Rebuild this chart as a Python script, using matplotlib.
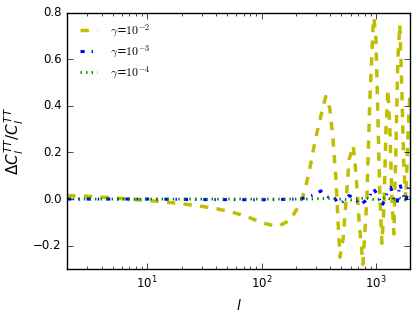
import numpy as np
import matplotlib
matplotlib.use("Agg")
import matplotlib.pyplot as plt
from matplotlib.font_manager import FontProperties

# values
l_y = [2, 3, 5, 10.6, 15.3, 21.5, 29, 40.8, 55.3, 76, 103, 139, 178, 218, 240, 264, 297, 324, 364,
       395, 421, 447, 466, 485, 517, 550, 584, 633, 670, 712, 770, 834, 886, 943, 961, 1000, 1042,
       1085, 1128, 1175, 1225, 1273, 1325, 1380, 1436, 1495, 1555, 1620, 1685, 1755, 1828, 1900, 1982]
d_y = [0.015, 0.012, 0.005, -0.007, -0.014, -0.022, -0.030, -0.042, -0.056, -0.077, -0.103, -0.118,
       -0.09, -0.02, 0.04, 0.13, 0.26, 0.34, 0.44, 0.39, 0.26, 0.09, -0.09, -0.25, -0.17, 0.0, 0.17,
       0.23, 0.11, -0.09, -0.28, 0.0, 0.43, 0.73, 0.78, 0.69, 0.34, 0.0, -0.19, -0.04, 0.3, 0.47, 0.3,
       0.0, -0.15, 0.21, 0.6, 0.75, 0.47, 0.13, 0.0, 0.26, 0.45]

l_b = [2, 5, 10, 30, 100, 217, 260, 292, 330, 380, 420, 470, 517, 580, 650, 720, 800, 880, 950,
       1030, 1130, 1200, 1273, 1350, 1436, 1530, 1620, 1720, 1828, 1950]
d_b = [0.0, 0.0, 0.0, -0.002, -0.003, 0.0, 0.01, 0.02, 0.035, 0.01, 0.015, -0.02, -0.01, 0.015,
       0.005, -0.025, -0.01, 0.01, 0.045, 0.02, -0.03, 0.0, 0.035, 0.05, 0.0, -0.02, 0.065, 0.02,
       -0.01, 0.06]

l_g = [2, 10, 100, 250, 400, 600, 800, 1000, 1200, 1400, 1600, 1800, 2000]
d_g = [0.0, 0.0, 0.0, 0.0, 0.003, -0.004, 0.005, -0.004, 0.006, -0.003, 0.005, -0.004, 0.004]

labels = [r"$\gamma$=$10^{-2}$", r"$\gamma$=$10^{-3}$", r"$\gamma$=$10^{-4}$"]

plt.style.use("classic")
plt.rcParams["font.size"] = 8.5
plt.rcParams["mathtext.fontset"] = "dejavusans"

fig = plt.figure(figsize=(4.2, 3.19), dpi=100)
ax = fig.add_axes([0.16, 0.157, 0.817, 0.803])

ax.plot(l_y, d_y, color="y", linestyle="--", linewidth=2.5, label=labels[0])
ax.plot(l_b, d_b, color="b", linestyle="-.", linewidth=2.2, label=labels[1])
ax.plot(l_g, d_g, color="g", linestyle=":", linewidth=2.0, label=labels[2])

ax.set_xscale("log")
ax.set_xlim(2, 2000)
ax.set_ylim(-0.3, 0.8)
ax.set_yticks([-0.2, 0.0, 0.2, 0.4, 0.6, 0.8])
ax.set_xlabel(r"$l$", fontsize=10)
ax.set_ylabel(r"$\Delta C_l^{TT}/C_l^{TT}$", fontsize=11)
ax.legend(loc="upper left", frameon=False, handlelength=2.0, handletextpad=0.8,
          labelspacing=0.35, borderaxespad=0.4,
          prop=FontProperties(size=8.5, math_fontfamily="cm"))

fig.savefig("out.png", dpi=100)
